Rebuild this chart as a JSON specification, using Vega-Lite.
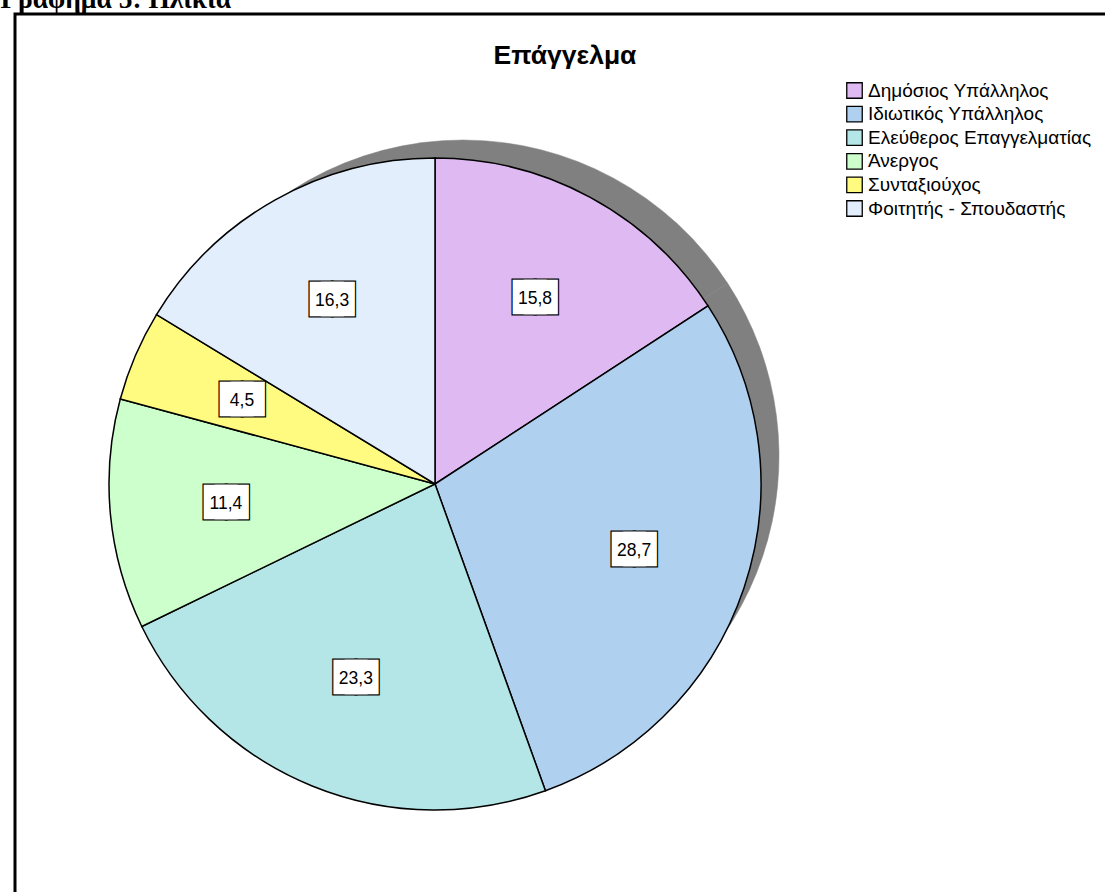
{
  "$schema": "https://vega.github.io/schema/vega-lite/v6.json",
  "padding": {"left": 0, "top": -14, "right": 0, "bottom": 0},
  "background": "white",
  "title": {
    "text": "Γράφημα 5: Ηλικία",
    "anchor": "start",
    "frame": "bounds",
    "dx": -13,
    "font": "Liberation Serif",
    "fontSize": 27.5,
    "fontWeight": "bold",
    "color": "black",
    "baseline": "alphabetic",
    "offset": -23
  },
  "datasets": {
    "jobs": [
      {"i": 1, "job": "Δημόσιος Υπάλληλος", "value": 15.8},
      {"i": 2, "job": "Ιδιωτικός Υπάλληλος", "value": 28.7},
      {"i": 3, "job": "Ελεύθερος Επαγγελματίας", "value": 23.3},
      {"i": 4, "job": "Άνεργος", "value": 11.4},
      {"i": 5, "job": "Συνταξιούχος", "value": 4.5},
      {"i": 6, "job": "Φοιτητής - Σπουδαστής", "value": 16.3}
    ]
  },
  "vconcat": [
    {
      "width": 1100,
      "height": 890,
      "title": {
        "text": "Επάγγελμα",
        "anchor": "middle",
        "font": "Liberation Sans",
        "fontSize": 26.5,
        "fontWeight": "bold",
        "color": "black",
        "baseline": "alphabetic",
        "offset": -78
      },
      "data": {"name": "jobs"},
      "encoding": {
        "theta": {"field": "value", "type": "quantitative", "stack": true, "scale": {"domain": [0, 100]}},
        "order": {"field": "i", "type": "quantitative"}
      },
      "layer": [
        {
          "data": {"values": [{}]},
          "mark": {"type": "rect", "fill": null, "stroke": "black", "strokeWidth": 3},
          "encoding": {"theta": null, "order": null}
        },
        {
          "mark": {"type": "arc", "outerRadius": 316, "xOffset": -102, "yOffset": -3, "fill": "#808080", "stroke": "#808080", "strokeWidth": 0.5}
        },
        {
          "mark": {"type": "arc", "outerRadius": 326, "xOffset": -130, "yOffset": 25, "stroke": "black", "strokeWidth": 1.5},
          "encoding": {
            "color": {
              "field": "job",
              "type": "nominal",
              "sort": null,
              "scale": {
                "domain": ["Δημόσιος Υπάλληλος", "Ιδιωτικός Υπάλληλος", "Ελεύθερος Επαγγελματίας", "Άνεργος", "Συνταξιούχος", "Φοιτητής - Σπουδαστής"],
                "range": ["#DEB9F2", "#AFD0EE", "#B4E6E8", "#CCFFCC", "#FFFA80", "#E2EEFB"]
              },
              "legend": {
                "title": null,
                "orient": "none",
                "legendX": 830,
                "legendY": 67,
                "symbolType": "square",
                "symbolSize": 240,
                "symbolStrokeColor": "black",
                "symbolStrokeWidth": 1.3,
                "symbolOpacity": 1,
                "labelFont": "Liberation Sans",
                "labelFontSize": 19,
                "labelColor": "black",
                "labelLimit": 400,
                "labelOffset": 4,
                "rowPadding": 2.6
              }
            }
          }
        },
        {
          "mark": {"type": "text", "radius": 210, "xOffset": -130, "yOffset": 24, "font": "DejaVu Sans", "fontSize": 29, "baseline": "middle", "align": "center", "fill": "white", "stroke": "black", "strokeWidth": 2.5, "strokeJoin": "miter"},
          "encoding": {"text": {"value": "██"}}
        },
        {
          "mark": {"type": "text", "radius": 210, "xOffset": -130, "yOffset": 24, "font": "DejaVu Sans", "fontSize": 29, "baseline": "middle", "align": "center", "fill": "white"},
          "encoding": {"text": {"value": "██"}}
        },
        {
          "mark": {"type": "text", "radius": 210, "xOffset": -130, "yOffset": 24, "font": "DejaVu Sans", "fontSize": 29, "baseline": "middle", "align": "center", "fill": "white"},
          "encoding": {"text": {"value": "█"}}
        },
        {
          "mark": {"type": "text", "radius": 210, "xOffset": -130, "yOffset": 25, "font": "Liberation Sans", "fontSize": 17.5, "baseline": "middle", "align": "center", "fill": "black"},
          "encoding": {"text": {"field": "value", "type": "quantitative", "format": ".1f"}}
        }
      ]
    }
  ],
  "config": {
    "view": {"stroke": null},
    "locale": {"number": {"decimal": ",", "thousands": ".", "grouping": [3], "currency": ["", " €"]}}
  }
}
